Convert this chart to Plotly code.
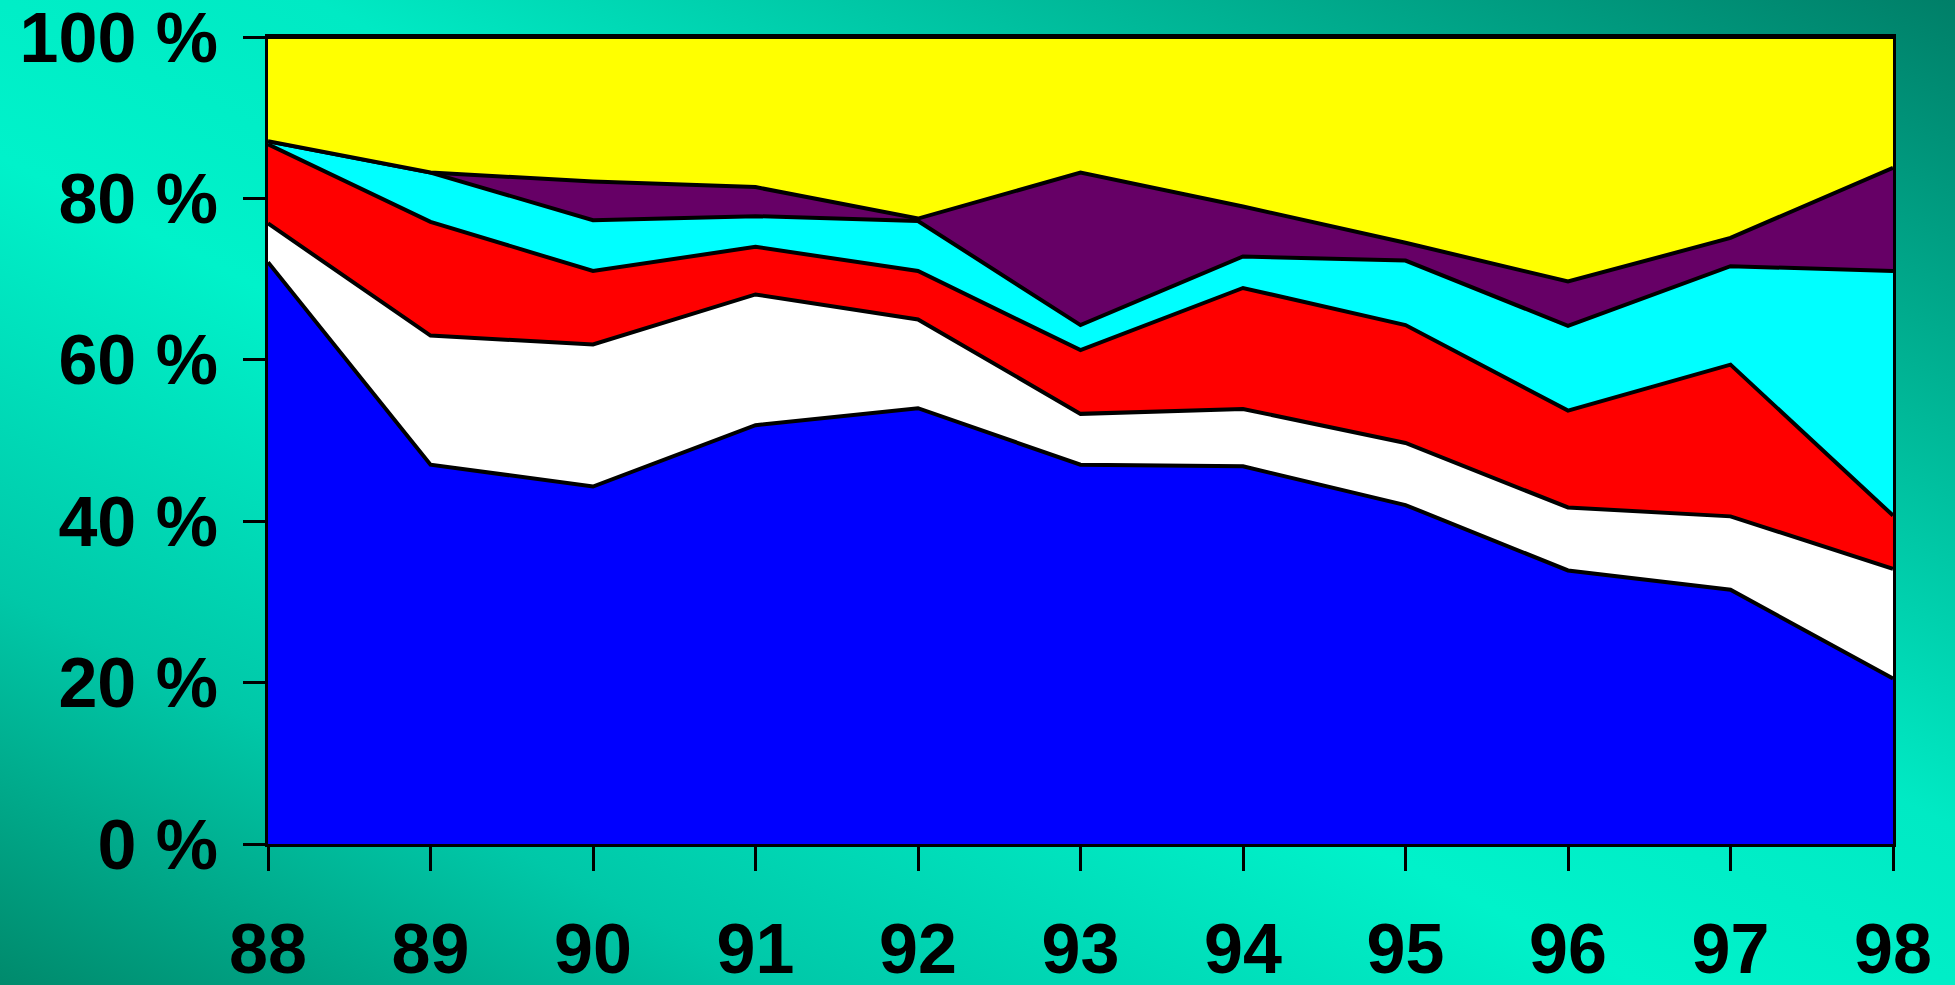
import base64
import plotly.graph_objects as go

# Years on the horizontal axis and their printed labels
years = [88, 89, 90, 91, 92, 93, 94, 95, 96, 97, 98]
year_labels = ["88", "89", "90", "91", "92", "93", "94", "95", "96", "97", "98"]

# Share of each group per year (percent, stacked bottom to top)
blue = [72.1, 47.0, 44.3, 51.9, 54.0, 47.0, 46.8, 42.0, 33.9, 31.5, 20.5]
white = [4.8, 16.0, 17.6, 16.2, 11.0, 6.3, 7.1, 7.7, 7.8, 9.1, 13.6]
red = [9.8, 14.1, 9.1, 5.9, 6.0, 7.9, 15.0, 14.6, 12.0, 18.8, 6.6]
cyan = [0.4, 6.1, 6.3, 3.8, 6.2, 3.1, 3.9, 8.0, 10.5, 12.2, 30.3]
purple = [0.0, 0.0, 4.8, 3.6, 0.3, 18.9, 6.2, 2.2, 5.5, 3.5, 12.8]
yellow = [12.9, 16.8, 17.9, 18.6, 22.5, 16.8, 21.0, 25.5, 30.3, 24.9, 16.2]

pct_ticks = [0, 20, 40, 60, 80, 100]
pct_labels = ["0 %", "20 %", "40 %", "60 %", "80 %", "100 %"]

series = [
    (blue, "#0000FF"),
    (white, "#FFFFFF"),
    (red, "#FF0000"),
    (cyan, "#00FFFF"),
    (purple, "#660066"),
    (yellow, "#FFFF00"),
]

W, H = 1955, 985
ML, MR, MT, MB = 268, 62, 37, 141

fig = go.Figure()
for values, color in series:
    fig.add_trace(go.Scatter(
        x=years, y=values,
        mode="lines",
        stackgroup="share",
        line=dict(color="black", width=4, shape="linear"),
        fillcolor=color,
        hoverinfo="skip",
        showlegend=False,
        cliponaxis=False,
    ))

# Diagonal teal gradient backdrop
svg = (
    f"<svg xmlns='http://www.w3.org/2000/svg' width='{W}' height='{H}' "
    f"viewBox='0 0 {W} {H}' preserveAspectRatio='none'>"
    "<defs><linearGradient id='g' x1='1' y1='0' x2='0' y2='1'>"
    "<stop offset='0' stop-color='#007f68'/>"
    "<stop offset='0.22' stop-color='#00b898'/>"
    "<stop offset='0.42' stop-color='#00eac4'/>"
    "<stop offset='0.58' stop-color='#00f2ca'/>"
    "<stop offset='0.8' stop-color='#00c8a8'/>"
    "<stop offset='1' stop-color='#008a6c'/>"
    "</linearGradient></defs>"
    f"<rect width='{W}' height='{H}' fill='url(#g)'/></svg>"
)
src = "data:image/svg+xml;base64," + base64.b64encode(svg.encode()).decode()

pw = W - ML - MR
ph = H - MT - MB
fig.add_layout_image(dict(
    source=src,
    xref="paper", yref="paper",
    x=-ML / pw, y=1 + MT / ph,
    sizex=W / pw, sizey=H / ph,
    xanchor="left", yanchor="top",
    sizing="stretch",
    layer="below",
))

tick_font = dict(family="Liberation Sans, Arial, sans-serif", size=70, color="black", weight="bold")

fig.update_layout(
    width=W, height=H,
    margin=dict(l=ML, r=MR, t=MT, b=MB, autoexpand=False),
    paper_bgcolor="#00d8b8",
    plot_bgcolor="rgba(0,0,0,0)",
    showlegend=False,
)
fig.update_xaxes(
    range=[88, 98],
    tickmode="array", tickvals=years, ticktext=year_labels,
    ticks="outside", ticklen=24, tickwidth=2.5, tickcolor="black",
    showline=True, linecolor="black", linewidth=3, mirror=True,
    showgrid=False, zeroline=False,
    tickfont=tick_font,
    ticklabelstandoff=18,
    ticklabeloverflow="allow",
    automargin=False,
)
fig.update_yaxes(
    range=[0, 100],
    tickmode="array", tickvals=pct_ticks, ticktext=pct_labels,
    ticks="outside", ticklen=22, tickwidth=2.5, tickcolor="black",
    showline=True, linecolor="black", linewidth=3, mirror=True,
    showgrid=False, zeroline=False,
    tickfont=tick_font,
    ticklabelstandoff=11,
    ticklabeloverflow="allow",
    automargin=False,
)

fig.write_html("out.html")
